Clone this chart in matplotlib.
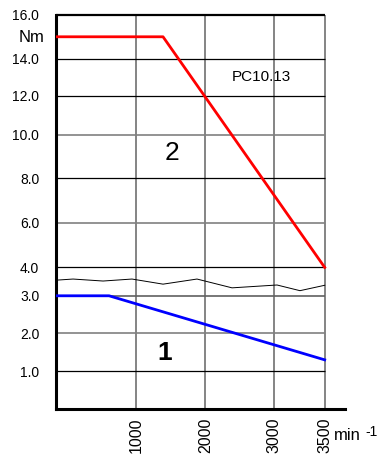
import numpy as np
import matplotlib
matplotlib.use("Agg")
import matplotlib.pyplot as plt

plt.rcParams['font.family'] = ['Liberation Sans', 'DejaVu Sans']

# speed axis (min^-1) and torque axis (Nm) of the original sheet are not linear
x_ticks = [1000, 2000, 3000, 3500]
x_pos = [0, 1000, 2000, 3000, 3500, 3700]
x_pix = [56, 136, 205.3, 274, 324.7, 345]

y_ticks = [1.0, 2.0, 3.0, 4.0, 6.0, 8.0, 10.0, 12.0, 14.0, 16.0]
y_pos = [0.0] + y_ticks
y_pix = [0, 37.7, 76, 113.3, 141.7, 186.3, 230.7, 274.3, 313.7, 350.7, 394.3]
y_grid_colors = ['black', '#808080', '#606060', 'black', '#808080',
                 'black', '#808080', 'black', 'black']

# curve 2 (red), curve 1 (blue), measured curve (thin black)
speed_2 = [0, 1390, 3500]
torque_2 = [15.0, 15.0, 4.0]

speed_1 = [0, 663, 3500]
torque_1 = [3.0, 3.0, 1.30]

speed_m = [0, 213, 588, 950, 1390, 1880, 2389, 3030, 3256, 3500]
torque_m = [3.55, 3.59, 3.52, 3.59, 3.41, 3.59, 3.28, 3.38, 3.18, 3.37]


def fx(v):
    return np.interp(v, x_pos, x_pix)


def fx_inv(v):
    return np.interp(v, x_pix, x_pos)


def fy(v):
    return np.interp(v, y_pos, y_pix)


def fy_inv(v):
    return np.interp(v, y_pix, y_pos)


fig = plt.figure(figsize=(3.79, 4.59), dpi=100)
ax = fig.add_axes([56 / 379, 50 / 459, (345 - 56) / 379, (409 - 15) / 459])
ax.set_xscale('function', functions=(fx, fx_inv))
ax.set_yscale('function', functions=(fy, fy_inv))
ax.set_xlim(0, 3700)
ax.set_ylim(0, 16)

# grid
for xv in x_ticks:
    ax.vlines(xv, 0, 16, color='#707070', lw=1.2, zorder=1)
for yv, c in zip(y_ticks[:-1], y_grid_colors):
    ax.hlines(yv, 0, 3500, color=c, lw=0.9 if c == 'black' else 1.2, zorder=1)
ax.hlines(16, 0, 3500, color='black', lw=1.6, zorder=3, clip_on=False)

ax.plot(speed_m, torque_m, color='black', lw=0.7, zorder=2)
ax.plot(speed_1, torque_1, color='#0000ff', lw=2.0, zorder=3)
ax.plot(speed_2, torque_2, color='#ff0000', lw=2.0, zorder=3)

for side in ['top', 'right']:
    ax.spines[side].set_visible(False)
ax.spines['left'].set_linewidth(2.2)
ax.spines['bottom'].set_linewidth(2.2)

ax.set_yticks(y_ticks)
ax.set_yticklabels([f'{v:.1f}' for v in y_ticks], fontsize=10)
ax.set_xticks(x_ticks)
ax.set_xticklabels([str(v) for v in x_ticks], fontsize=11.5, rotation=90)
ax.tick_params(axis='y', length=0, pad=12)
ax.tick_params(axis='x', length=0, pad=6)
ax.minorticks_off()

ax.text(2810, 13.0, 'PC10.13', fontsize=11, ha='center', va='center')
ax.text(1520, 9.15, '2', fontsize=19, ha='center', va='center')
ax.text(1410, 1.48, '1', fontsize=19, fontweight='bold', ha='center', va='center')

fig.text(45 / 379, 1 - 38 / 459, 'Nm', fontsize=12, ha='right', va='center')
fig.text(334 / 379, 1 - 440 / 459, 'min', fontsize=12, ha='left', va='baseline')
fig.text(365 / 379, 1 - 432 / 459, '-1', fontsize=10, ha='left', va='center')

fig.savefig('out.png', dpi=100)
